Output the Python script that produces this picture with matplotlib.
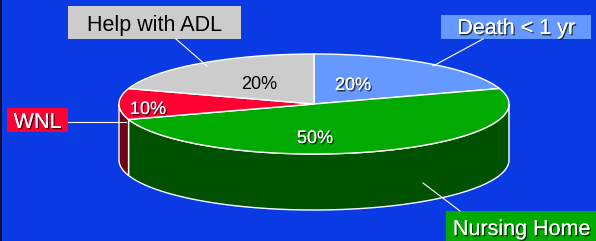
import numpy as np
import matplotlib.pyplot as plt
from matplotlib.patches import Polygon, Rectangle
import matplotlib.patheffects as pe

plt.rcParams['font.family'] = ['Liberation Sans', 'DejaVu Sans']

# slices, clockwise from 12 o'clock
categories = ["Death < 1 yr", "Nursing Home", "WNL", "Help with ADL"]
shares = [20, 50, 10, 20]
pct_labels = ["20%", "50%", "10%", "20%"]
top_colors = ["#6699FF", "#00AA00", "#FF0033", "#CCCCCC"]
side_colors = ["#4466BB", "#005200", "#6E0018", "#8A8A8A"]
text_colors = ["white", "white", "white", "black"]

BG = "#0A3AE3"
# pie geometry in pixel coords (y goes down)
CX, CY, RX, RY, DEPTH = 314, 104, 195, 50, 56

# where PowerPoint put the labels: box (x0, y0, x1, y1), leader line, percent text (x, baseline)
boxes = [(441, 15, 591, 39), (446, 211, 597, 242), (7, 108, 68, 132), (68, 6, 241, 39)]
baselines = [34, 235, 128, 31]
leaders = [((483, 39), (433, 66)), ((460, 211), (423, 183)),
           ((68, 122), (126, 122)), ((176, 39), (207, 66))]
pct_pos = [(353, 90), (315, 143), (148, 114), (259, 89)]

shadow = [pe.withSimplePatchShadow(offset=(1, -1), shadow_rgbFace='black', alpha=0.7), pe.Normal()]


def arc(t0, t1, dy=0, n=120):
    t = np.radians(np.linspace(t0, t1, n))
    return np.column_stack([CX + RX * np.sin(t), CY - RY * np.cos(t) + dy])


fig = plt.figure(figsize=(5.96, 2.41), dpi=100)
fig.patch.set_facecolor(BG)
ax = fig.add_axes([0, 0, 1, 1])
ax.set_xlim(0, 596)
ax.set_ylim(241, 0)
ax.axis('off')
ax.add_patch(Rectangle((0, 0), 2, 241, color="#101030", lw=0))

total = sum(shares)
edges = np.concatenate([[0], np.cumsum(shares) / total * 360])

# side walls, only the front half (90..270 deg) shows
for i in range(len(shares)):
    lo, hi = max(edges[i], 90), min(edges[i + 1], 270)
    if hi <= lo:
        continue
    pts = np.vstack([arc(lo, hi), arc(hi, lo, DEPTH)])
    ax.add_patch(Polygon(pts, closed=True, facecolor=side_colors[i], edgecolor='white', lw=1))

# top faces
for i in range(len(shares)):
    pts = np.vstack([[CX, CY], arc(edges[i], edges[i + 1])])
    ax.add_patch(Polygon(pts, closed=True, facecolor=top_colors[i], edgecolor='white', lw=1))

for i, (x, y) in enumerate(pct_pos):
    fx = shadow if text_colors[i] == 'white' else None
    ax.text(x, y, pct_labels[i], ha='center', va='baseline', fontsize=13,
            color=text_colors[i], path_effects=fx)

for i, name in enumerate(categories):
    x0, y0, x1, y1 = boxes[i]
    ax.add_patch(Rectangle((x0, y0), x1 - x0, y1 - y0, facecolor=top_colors[i], lw=0))
    (a, b), (c, d) = leaders[i]
    ax.plot([a, c], [b, d], color='white', lw=0.8)
    fx = shadow if text_colors[i] == 'white' else None
    ax.text((x0 + x1) / 2, baselines[i], name, ha='center', va='baseline', fontsize=15.5,
            color=text_colors[i], path_effects=fx)

plt.savefig("out.png", dpi=100, facecolor=BG)
